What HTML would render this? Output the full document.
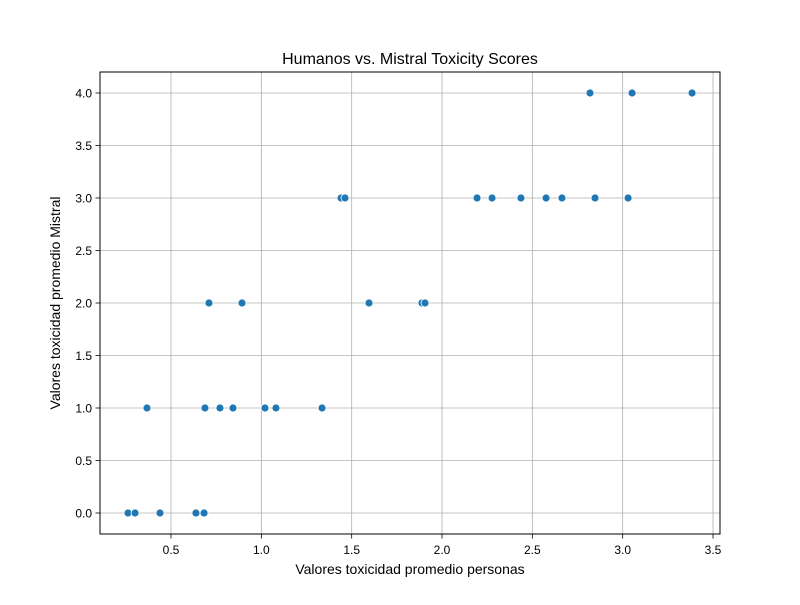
<!DOCTYPE html>
<html><head><meta charset="utf-8"><style>
html,body{margin:0;padding:0;background:#fff;}
svg text{font-family:"Liberation Sans","DejaVu Sans",sans-serif;fill:#000;}
</style></head><body>
<svg id="chart" width="800" height="600" xmlns="http://www.w3.org/2000/svg">
<rect width="800" height="600" fill="#fff"/>
<text x="410" y="64" font-size="16" text-anchor="middle">Humanos vs. Mistral Toxicity Scores</text>
<g id="grid"></g>
<g id="ticks"></g>
<g id="points"></g>
<rect x="100" y="72" width="620" height="462" fill="none" stroke="#000" stroke-width="1"/>
<text x="410" y="574" font-size="14" text-anchor="middle">Valores toxicidad promedio personas</text>
<text transform="translate(60,303) rotate(-90)" font-size="14" text-anchor="middle">Valores toxicidad promedio Mistral</text>
</svg>
<script>
const xValues = [0.262,0.301,0.439,0.638,0.683, 0.367,0.688,0.771,0.843,1.020,1.081,1.336, 0.710,0.893,1.596,1.889,1.906, 1.441,1.463,2.194,2.277,2.437,2.576,2.664,2.847,3.030, 2.819,3.052,3.384];
const yValues = [0,0,0,0,0, 1,1,1,1,1,1,1, 2,2,2,2,2, 3,3,3,3,3,3,3,3,3, 4,4,4];
const xTicks = [0.5,1.0,1.5,2.0,2.5,3.0,3.5];
const yTicks = [0.0,0.5,1.0,1.5,2.0,2.5,3.0,3.5,4.0];
const NS="http://www.w3.org/2000/svg";
function xs(v){return 80.67+v*180.67;}
function ys(v){return 513-v*105;}
const grid=document.getElementById('grid'), ticks=document.getElementById('ticks'), pts=document.getElementById('points');
function mk(tag,attrs,parent){const e=document.createElementNS(NS,tag);for(const k in attrs)e.setAttribute(k,attrs[k]);parent.appendChild(e);return e;}
xTicks.forEach(t=>{
  const x=xs(t);
  const g=mk('line',{x1:x,x2:x,y1:72,y2:534,stroke:'#b0b0b0','stroke-width':0.8},grid);
  
  
  mk('line',{x1:x,x2:x,y1:534,y2:538.5,stroke:'#000','stroke-width':0.8},ticks);
  const l=mk('text',{x:x,y:554,'font-size':12,'text-anchor':'middle'},ticks);
  l.textContent=t.toFixed(1);
  
  
});
yTicks.forEach(t=>{
  const y=ys(t);
  const g=mk('line',{x1:100,x2:720,y1:y,y2:y,stroke:'#b0b0b0','stroke-width':0.8},grid);
  
  
  mk('line',{x1:95.5,x2:100,y1:y,y2:y,stroke:'#000','stroke-width':0.8},ticks);
  const l=mk('text',{x:92,y:y+4.5,'font-size':12,'text-anchor':'end'},ticks);
  l.textContent=t.toFixed(1);
  
  
});
xValues.forEach((v,i)=>{
  const c=mk('circle',{cx:xs(v),cy:ys(yValues[i]),r:4,fill:'#1f77b4',stroke:'#fff','stroke-width':0.8},pts);
  
  
});
</script>
</body></html>
